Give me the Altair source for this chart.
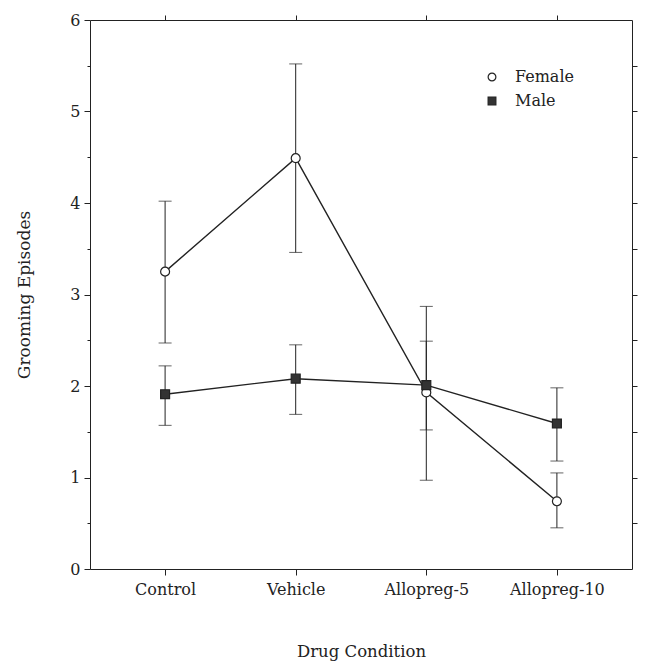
import altair as alt
import pandas as pd

conditions = ["Control", "Vehicle", "Allopreg-5", "Allopreg-10"]
sexes = ["Female", "Male"]
female_mean = [3.25, 4.49, 1.93, 0.74]
female_hi = [4.02, 5.52, 2.87, 1.05]
female_lo = [2.47, 3.46, 0.97, 0.45]
male_mean = [1.91, 2.08, 2.01, 1.59]
male_hi = [2.22, 2.45, 2.49, 1.98]
male_lo = [1.57, 1.69, 1.52, 1.18]
y_major = [0, 1, 2, 3, 4, 5, 6]
y_minor = [0.5, 1.5, 2.5, 3.5, 4.5, 5.5]
y_right = [0.5, 1, 1.5, 2, 2.5, 3, 3.5, 4, 4.5, 5, 5.5]

rows = []
for c, m, lo, hi in zip(conditions, female_mean, female_lo, female_hi):
    rows.append({"cond": c, "sex": "Female", "mean": m, "lo": lo, "hi": hi})
for c, m, lo, hi in zip(conditions, male_mean, male_lo, male_hi):
    rows.append({"cond": c, "sex": "Male", "mean": m, "lo": lo, "hi": hi})
df = pd.DataFrame(rows)

caps = []
for r in rows:
    caps.append({"cond": r["cond"], "sex": r["sex"], "v": r["lo"]})
    caps.append({"cond": r["cond"], "sex": r["sex"], "v": r["hi"]})
caps_df = pd.DataFrame(caps)

FONT = "DejaVu Serif"
xscale = alt.Scale(type="point", domain=conditions, padding=0.575)
yscale = alt.Scale(domain=[0, 6], nice=False, zero=True)

base = alt.Chart(df)

rules = base.mark_rule(color="#222", strokeWidth=1).encode(
    x=alt.X("cond:N", sort=conditions, scale=xscale,
            axis=alt.Axis(orient="bottom", title="Drug Condition", labelAngle=0,
                          labelFont=FONT, labelFontSize=16, labelColor="#222",
                          titleFont=FONT, titleFontSize=16.5, titleFontWeight="normal",
                          titleColor="#222", titlePadding=46, labelPadding=6,
                          tickSize=6, tickColor="#222", domainColor="#222",
                          grid=False)),
    y=alt.Y("lo:Q", scale=yscale,
            axis=alt.Axis(orient="left", title="Grooming Episodes", values=y_major,
                          labelFont=FONT, labelFontSize=16, labelColor="#222",
                          titleFont=FONT, titleFontSize=17, titleFontWeight="normal",
                          titleColor="#222", titlePadding=36, labelPadding=4,
                          tickSize=6, tickColor="#222", domainColor="#222",
                          grid=False)),
    y2="hi:Q",
)

cap_layer = alt.Chart(caps_df).mark_tick(color="#222", size=13, thickness=1).encode(
    x=alt.X("cond:N", sort=conditions, scale=xscale,
            axis=alt.Axis(orient="top", title=None, labels=False, tickSize=5,
                          tickColor="#222", domainColor="#222", grid=False)),
    y=alt.Y("v:Q", scale=yscale,
            axis=alt.Axis(orient="left", title=None, labels=False, values=y_minor,
                          tickSize=3, tickColor="#222", domain=False, grid=False)),
)

lines = base.mark_line(color="#222", strokeWidth=1.4).encode(
    x=alt.X("cond:N", sort=conditions, scale=xscale, axis=None),
    y=alt.Y("mean:Q", scale=yscale,
            axis=alt.Axis(orient="right", title=None, labels=False, values=y_right,
                          tickSize=5, tickColor="#222", domainColor="#222", grid=False)),
    detail="sex:N",
)

points = base.mark_point(filled=True, strokeWidth=1.2, opacity=1, size=80,
                         stroke="#222").encode(
    x=alt.X("cond:N", sort=conditions, scale=xscale, axis=None),
    y=alt.Y("mean:Q", scale=yscale, axis=None),
    shape=alt.Shape("sex:N", scale=alt.Scale(domain=sexes, range=["circle", "square"]),
                    title=None),
    color=alt.Color("sex:N", scale=alt.Scale(domain=sexes, range=["white", "#333"]),
                    title=None),
    order=alt.Order("sex:N"),
)

chart = alt.layer(rules, cap_layer, lines, points).resolve_axis(
    x="independent", y="independent"
).properties(
    width=542, height=549,
    autosize=alt.AutoSizeParams(type="none"),
    padding={"left": 90, "top": 20, "right": 16, "bottom": 93},
).configure_view(stroke=None).configure_legend(
    orient="none", legendX=394, legendY=49,
    labelFont=FONT, labelFontSize=16, labelColor="#222",
    symbolStrokeColor="#222", symbolSize=60, symbolStrokeWidth=1.2,
    rowPadding=8, labelOffset=15,
)

chart.save("out.html", embed_options={"renderer": "svg", "actions": False})
